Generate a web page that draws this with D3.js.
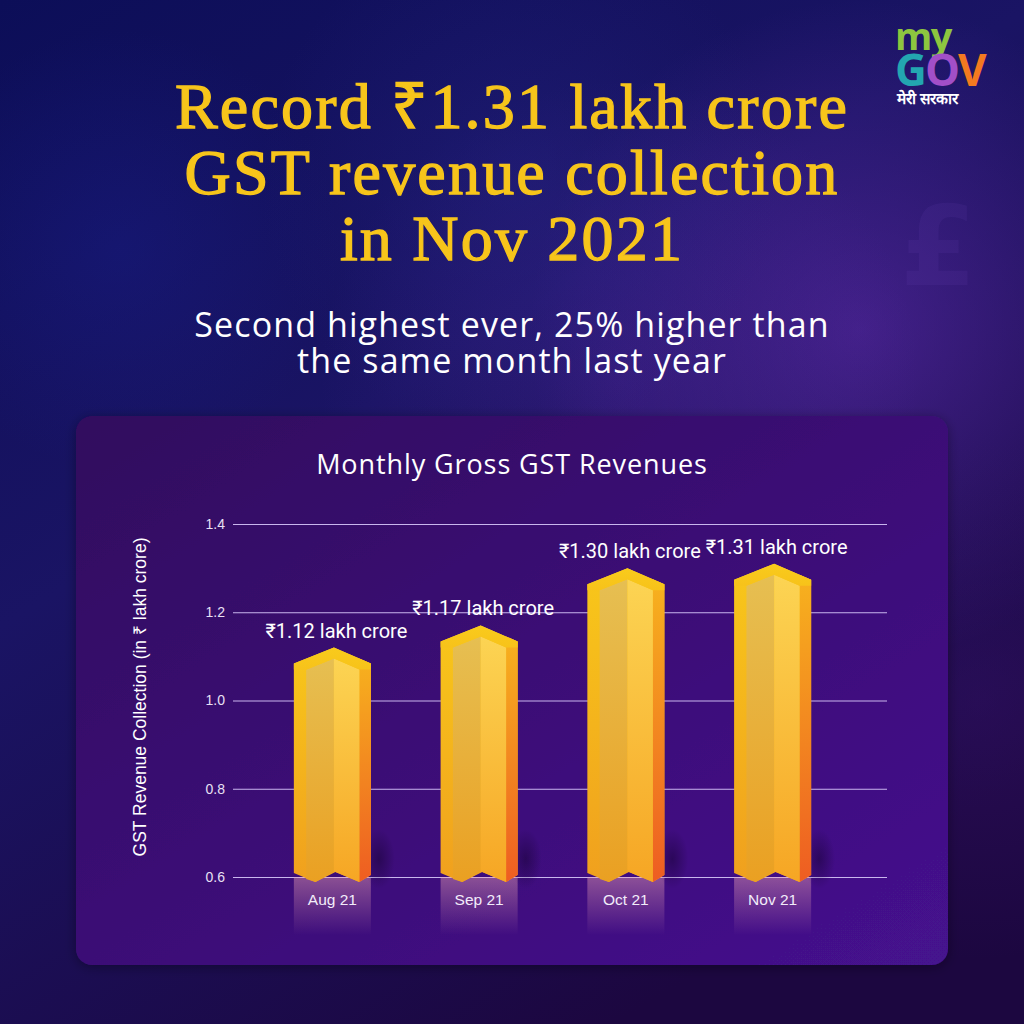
<!DOCTYPE html>
<html>
<head>
<meta charset="utf-8">
<script src="https://cdn.jsdelivr.net/npm/d3@7"></script>
<style>
html,body{margin:0;padding:0;background:#120d55;}
svg{display:block;}
</style>
</head>
<body>
<svg id="chart" width="1024" height="1024"></svg>
<script>
// ---- data ----
const months = ["Aug 21", "Sep 21", "Oct 21", "Nov 21"];
const revenue = [1.12, 1.17, 1.30, 1.31];
const valueLabels = ["₹1.12 lakh crore", "₹1.17 lakh crore", "₹1.30 lakh crore", "₹1.31 lakh crore"];
const yTicks = [0.6, 0.8, 1.0, 1.2, 1.4];
const titleLines = ["Record ₹1.31 lakh crore", "GST revenue collection", "in Nov 2021"];
const subtitleLines = ["Second highest ever, 25% higher than", "the same month last year"];
const chartTitle = "Monthly Gross GST Revenues";
const yAxisTitle = "GST Revenue Collection (in ₹ lakh crore)";

const svg = d3.select("#chart");
const defs = svg.append("defs");

// ---- background ----
const bg = defs.append("linearGradient").attr("id","bg").attr("x1",0).attr("y1",0).attr("x2",0.6).attr("y2",1);
bg.append("stop").attr("offset",0).attr("stop-color","#0c0e58");
bg.append("stop").attr("offset",0.45).attr("stop-color","#1a1464");
bg.append("stop").attr("offset",1).attr("stop-color","#1c0740");
svg.append("rect").attr("width",1024).attr("height",1024).attr("fill","url(#bg)");

function glow(id, cx, cy, r, color, op){
  const g = defs.append("radialGradient").attr("id",id);
  g.append("stop").attr("offset",0).attr("stop-color",color).attr("stop-opacity",op);
  g.append("stop").attr("offset",1).attr("stop-color",color).attr("stop-opacity",0);
  svg.append("circle").attr("cx",cx).attr("cy",cy).attr("r",r).attr("fill",`url(#${id})`);
}
glow("g1", 860, 330, 330, "#6a30b8", 0.5);
glow("g2", 620, 380, 300, "#5a2aa8", 0.3);
glow("g3", 120, 250, 220, "#1a2090", 0.35);
glow("g4", 980, 700, 260, "#3a1470", 0.4);
glow("g5", 520, 180, 260, "#2a2a90", 0.3);

// faint currency symbol
svg.append("text").attr("x",900).attr("y",285).attr("font-size",110).attr("fill","#7a50c8").attr("opacity",0.1)
  .attr("font-family","DejaVu Sans").attr("font-weight","bold").text("£");

// ---- titles ----
const title = svg.append("g").attr("fill","#f7c51b").attr("stroke","#f7c51b").attr("stroke-width",1.3)
  .attr("font-family","'Liberation Serif', serif").attr("font-size",64).attr("letter-spacing",2.2).attr("text-anchor","middle");
titleLines.forEach((t,i)=> title.append("text").attr("x",512).attr("y",128 + i*66).text(t));

const sub = svg.append("g").attr("fill","#ffffff").attr("font-family","'Open Sans', sans-serif").attr("font-size",34).attr("letter-spacing",1.1).attr("text-anchor","middle");
subtitleLines.forEach((t,i)=> sub.append("text").attr("x",512).attr("y",337 + i*36).text(t));

// ---- logo ----
const logo = svg.append("g").attr("font-family","'Open Sans', sans-serif").attr("font-weight","bold");
logo.append("text").attr("x",895).attr("y",50).attr("font-size",38).attr("fill","#8dc63f").attr("letter-spacing",-1.5).text("my");
const gov = logo.append("text").attr("x",895).attr("y",86).attr("font-size",44).attr("letter-spacing",-2);
gov.append("tspan").attr("fill","#23a6b0").text("G");
gov.append("tspan").attr("fill","#a24fc8").text("O");
gov.append("tspan").attr("fill","#f47a20").text("V");
logo.append("text").attr("x",897).attr("y",104).attr("font-size",15.5).attr("fill","#ffffff").text("मेरी सरकार");

// ---- chart panel ----
const pg = defs.append("linearGradient").attr("id","panel").attr("x1",0).attr("y1",0).attr("x2",1).attr("y2",1);
pg.append("stop").attr("offset",0).attr("stop-color","#31095e");
pg.append("stop").attr("offset",1).attr("stop-color","#45128e");
const sh = defs.append("filter").attr("id","shadow").attr("x","-10%").attr("y","-10%").attr("width","120%").attr("height","120%");
sh.append("feDropShadow").attr("dx",0).attr("dy",2).attr("stdDeviation",6).attr("flood-color","#000").attr("flood-opacity",0.35);
svg.append("rect").attr("x",76).attr("y",416).attr("width",872).attr("height",549).attr("rx",16)
  .attr("fill","url(#panel)").attr("filter","url(#shadow)");

svg.append("text").attr("x",512).attr("y",474).attr("text-anchor","middle").attr("fill","#ffffff")
  .attr("font-family","'Open Sans', sans-serif").attr("font-size",27).attr("letter-spacing",0.9).text(chartTitle);

// ---- scales ----
const y = d3.scaleLinear().domain([0.6, 1.4]).range([877, 524]);
const x = d3.scaleBand().domain(months).range([259, 846]).paddingInner(0.475).paddingOuter(0.2375);

// gridlines + axis
const yAxis = d3.axisLeft(y).tickValues(yTicks).tickFormat(d3.format(".1f")).tickSize(-654).tickPadding(8);
const ya = svg.append("g").attr("transform","translate(233,0)").call(yAxis);
ya.select(".domain").remove();
ya.selectAll(".tick line").attr("stroke","#c9b6ee").attr("stroke-width",1.2);
ya.selectAll(".tick text").attr("fill","#e8e0f4").attr("font-family","'Liberation Sans', Arial, sans-serif").attr("font-size",14);

svg.append("text").attr("transform","translate(146,697) rotate(-90)").attr("text-anchor","middle")
  .attr("fill","#ffffff").attr("font-family","'Liberation Sans', Arial, sans-serif").attr("font-size",17.5).text(yAxisTitle);

// ---- bar gradients ----
function vgrad(id, c0, c1){
  const g = defs.append("linearGradient").attr("id",id).attr("x1",0).attr("y1",0).attr("x2",0).attr("y2",1);
  g.append("stop").attr("offset",0).attr("stop-color",c0);
  g.append("stop").attr("offset",1).attr("stop-color",c1);
}
vgrad("leftOuter", "#f8c71a", "#f0a01e");
vgrad("leftInner", "#e6bf52", "#eaa022");
vgrad("rightInner", "#fcd453", "#f6a624");
vgrad("rightStrip", "#f7b21e", "#ee5d22");
vgrad("topBevel", "#f9cb1c", "#f7c21a");
const rg = defs.append("linearGradient").attr("id","refl").attr("x1",0).attr("y1",0).attr("x2",0).attr("y2",1);
rg.append("stop").attr("offset",0).attr("stop-color","#eaa2b4").attr("stop-opacity",0.45);
rg.append("stop").attr("offset",1).attr("stop-color","#eaa2b4").attr("stop-opacity",0);
const bsh = defs.append("radialGradient").attr("id","barShadow");
bsh.append("stop").attr("offset",0).attr("stop-color","#12002a").attr("stop-opacity",0.45);
bsh.append("stop").attr("offset",1).attr("stop-color","#12002a").attr("stop-opacity",0);

const base = y(0.6);
const bars = svg.append("g");
const line = d3.line();
months.forEach((m,i)=>{
  const L = x(m), w = x.bandwidth(), R = L + w;
  const yp = y(revenue[i]);
  const d = 16;            // shoulder drop
  const rx = L + 0.52*w;   // ridge
  const sL = L + 0.16*w, sR = R - 0.15*w; // inner panel edges
  const bev = 11;
  const roof = xx => xx <= rx ? yp + d*(rx-xx)/(rx-L) : yp + d*(xx-rx)/(R-rx);
  const g = bars.append("g");
  g.append("rect").attr("x",L).attr("y",base).attr("width",w).attr("height",58).attr("fill","url(#refl)");
  g.append("ellipse").attr("cx",R+8).attr("cy",base-18).attr("rx",16).attr("ry",30).attr("fill","url(#barShadow)");
  const bot = [[R,base-2],[sR,base+5],[L+0.54*w,base-5],[L+0.28*w,base+5],[L,base-4]];
  g.append("path").attr("d", line([[L,roof(L)],[rx,yp],[R,roof(R)],...bot]) + "Z").attr("fill","url(#leftOuter)");
  g.append("path").attr("d", line([[sR,roof(sR)],[R,roof(R)],[R,base-2],[sR,base+5]]) + "Z").attr("fill","url(#rightStrip)");
  g.append("path").attr("d", line([[sL, roof(sL)+bev],[rx, yp+bev],[rx, base-5],[L+0.28*w, base+5],[sL, base+2]]) + "Z").attr("fill","url(#leftInner)");
  g.append("path").attr("d", line([[rx, yp+bev],[sR, roof(sR)+bev],[sR, base+5],[L+0.54*w, base-5],[rx,base-5]]) + "Z").attr("fill","url(#rightInner)");
  g.append("path").attr("d", line([[L,roof(L)],[rx,yp],[R,roof(R)],[R,roof(R)+6],[sR,roof(sR)+bev],[rx,yp+bev],[sL, roof(sL)+bev],[L,roof(L)+6]]) + "Z").attr("fill","url(#topBevel)");
  svg.append("text").attr("x", L + w/2 + 4).attr("y", yp - 10).attr("text-anchor","middle")
    .attr("fill","#ffffff").attr("font-family","Roboto, sans-serif").attr("font-size",20).text(valueLabels[i]);
  svg.append("text").attr("x", L + w/2).attr("y", base + 28).attr("text-anchor","middle")
    .attr("fill","#f2ecfa").attr("font-family","'Liberation Sans', Arial, sans-serif").attr("font-size",15.5).text(m);
});
</script>
</body>
</html>
